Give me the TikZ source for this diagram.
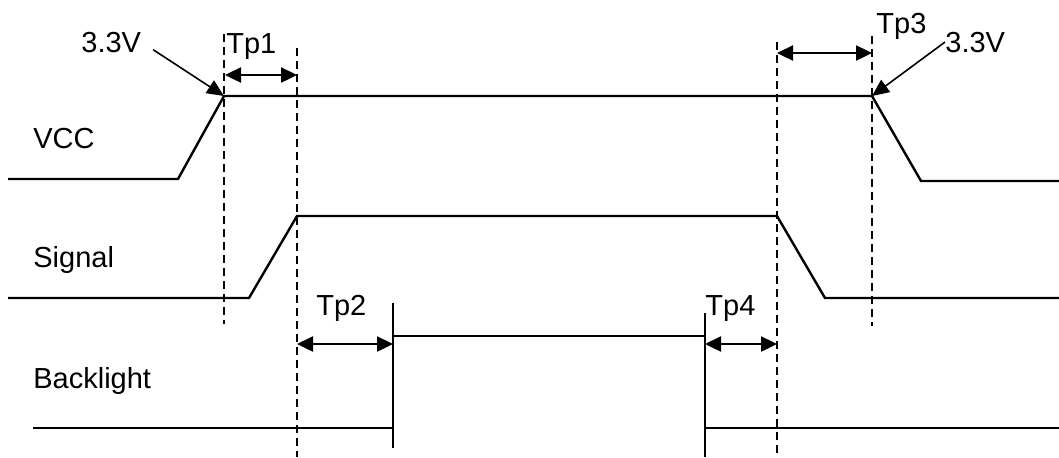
\documentclass[tikz,border=0pt]{standalone}
\usepackage{tikz}
\usepackage{fontspec}
\setmainfont{Liberation Sans}
\usetikzlibrary{arrows.meta}

\tikzset{
	wave/.style={line width=1.2pt, line join=miter},
	guide/.style={line width=1.1pt, dash pattern=on 4pt off 2.5pt},
	span/.style={line width=1.2pt, {Triangle[length=8pt,width=7.5pt]}-{Triangle[length=8pt,width=7.5pt]}},
	pointer/.style={line width=0.8pt, -{Triangle[length=8.5pt,width=7.5pt]}},
	lbl/.style={draw=none, inner sep=0pt, anchor=base west}
}

\begin{document}
\begin{tikzpicture}[x=0.5pt, y=-0.5pt, font=\fontsize{14.5}{16}\selectfont]
		\useasboundingbox (0,0) rectangle (1059,457);
		
		% signal names
		\node (vcc)[lbl] at (33,148) {VCC};
		\node (sig)[lbl] at (33,267) {Signal};
		\node (bl)[lbl] at (33,388) {Backlight};
		
		% corner points of the waveforms
		\coordinate (vccup) at (224,96);
		\coordinate (vccdn) at (872,96);
		\coordinate (sigup) at (297,216);
		\coordinate (sigdn) at (777,216);
		\coordinate (blon) at (393,336);
		\coordinate (bloff) at (705,336);
		
		\draw[wave] (8,179) -- (178,179) -- (vccup) -- (vccdn) -- (921,181) -- (1059,181);
		\draw[wave] (8,298) -- (249,298) -- (sigup) -- (sigdn) -- (825,298) -- (1059,298);
		\draw[wave] (33,428) -- (393,428);
		\draw[wave] (393,303) -- (393,448);
		\draw[wave] (blon) -- (bloff);
		\draw[wave] (705,313) -- (705,457);
		\draw[wave] (705,428) -- (1059,428);
		
		% timing guides
		\draw[guide] (224,34) -- (224,324);
		\draw[guide] (297,48) -- (297,457);
		\draw[guide] (777,42) -- (777,457);
		\draw[guide] (872,36) -- (872,326);
		
		% timing spans
		\coordinate (tp1a) at (225,75);
		\coordinate (tp1b) at (297,75);
		\coordinate (tp3a) at (777,53);
		\coordinate (tp3b) at (872,53);
		\coordinate (tp2a) at (297,344);
		\coordinate (tp2b) at (393,344);
		\coordinate (tp4a) at (705,344);
		\coordinate (tp4b) at (777,344);
		
		\draw[span] (tp1a) -- (tp1b);
		\draw[span] (tp3a) -- (tp3b);
		\draw[span] (tp2a) -- (tp2b);
		\draw[span] (tp4a) -- (tp4b);
		
		\node (tp1)[lbl] at (226,53) {Tp1};
		\node (tp3)[lbl] at (876,33) {Tp3};
		\node (tp2)[lbl] at (316,315) {Tp2};
		\node (tp4)[lbl] at (705,315) {Tp4};
		
		% supply level
		\node (vhi)[lbl] at (81,52) {3.3V};
		\node (vlo)[lbl] at (945,52) {3.3V};
		\draw[pointer, shorten <=7pt] (vhi.east) -- (vccup);
		\draw[pointer] (vlo.west) -- (vccdn);
	\end{tikzpicture}
\end{document}
